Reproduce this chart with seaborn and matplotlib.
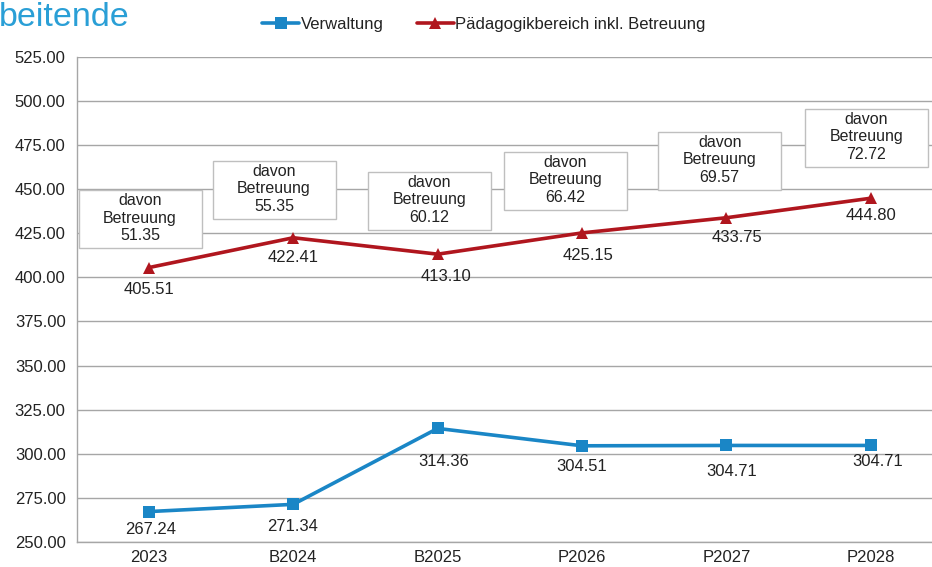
import matplotlib
matplotlib.use("Agg")
import matplotlib.pyplot as plt
import seaborn as sns
import pandas as pd
import numpy as np

# ---- data ----
categories = ["2023", "B2024", "B2025", "P2026", "P2027", "P2028"]
verwaltung = [267.24, 271.34, 314.36, 304.51, 304.71, 304.71]
paedagogik = [405.51, 422.41, 413.10, 425.15, 433.75, 444.80]
betreuung = [51.35, 55.35, 60.12, 66.42, 69.57, 72.72]
y_ticks = [250, 275, 300, 325, 350, 375, 400, 425, 450, 475, 500, 525]
title_text = "beitende"
name_v = "Verwaltung"
name_p = "Pädagogikbereich inkl. Betreuung"

# ---- layout (positions of callout boxes / label offsets, in px) ----
box_cx = [-0.061, 0.867, 1.943, 2.884, 3.953, 4.97]
box_cy = [432.9, 449.6, 443.4, 454.7, 466.0, 479.1]
p_lab_dx = [0, 0, 8, 6, 11, 0]
p_lab_dy = [22, 20, 22, 23, 20, 17]
v_lab_dx = [2, -1, 6, 0, 5, 7]
v_lab_dy = [18, 22, 33, 21, 26, 16]

W, H = 932, 567
sns.set_theme(style="white")
plt.rcParams["font.family"] = ["Liberation Sans", "DejaVu Sans"]

fig = plt.figure(figsize=(W / 100, H / 100), dpi=100)
ax_left, ax_right, ax_top, ax_bottom = 76.7, 943.0, 56.7, 542.0
ax = fig.add_axes([ax_left / W, (H - ax_bottom) / H,
                   (ax_right - ax_left) / W, (ax_bottom - ax_top) / H])

blue = "#1a86c6"
red = "#b0161e"
grid_c = "#a6a6a6"
txt_c = "#222222"
fs = 12

x = np.arange(len(categories))
df = pd.DataFrame({"x": np.concatenate([x, x]),
                   "y": verwaltung + paedagogik,
                   "series": [name_v] * len(x) + [name_p] * len(x)})

sns.lineplot(data=df[df.series == name_v], x="x", y="y", ax=ax, color=blue,
             lw=2.6, marker="s", markersize=9, markeredgewidth=0,
             label=name_v, legend=False)
sns.lineplot(data=df[df.series == name_p], x="x", y="y", ax=ax, color=red,
             lw=2.6, marker="^", markersize=9, markeredgewidth=0,
             label=name_p, legend=False)

ax.set_xlim(-0.5, len(categories) - 0.5)
ax.set_ylim(250, 525)
ax.set_yticks(y_ticks)
ax.set_yticklabels([f"{v:.2f}" for v in y_ticks], fontsize=fs, color=txt_c)
ax.set_xticks(x)
ax.set_xticklabels(categories, fontsize=fs, color=txt_c)
ax.set_xlabel("")
ax.set_ylabel("")
ax.set_xticks(np.arange(-0.5, len(categories) + 0.5, 1), minor=True)
ax.tick_params(axis="x", which="major", length=0, pad=6)
ax.tick_params(axis="x", which="minor", length=5, color=grid_c, width=1, direction="out")
ax.tick_params(axis="y", which="major", length=5, color=grid_c, width=1, direction="out", pad=3)
ax.grid(axis="y", color=grid_c, lw=1)
ax.set_axisbelow(True)
for s in ["top", "right"]:
    ax.spines[s].set_visible(False)
for s in ["left", "bottom"]:
    ax.spines[s].set_color(grid_c)
    ax.spines[s].set_linewidth(1)

# data labels
for i, v in enumerate(paedagogik):
    ax.annotate(f"{v:.2f}", (x[i], v), xytext=(p_lab_dx[i] * 0.72, -p_lab_dy[i] * 0.72),
                textcoords="offset points", ha="center", va="center",
                fontsize=fs, color=txt_c)
for i, v in enumerate(verwaltung):
    ax.annotate(f"{v:.2f}", (x[i], v), xytext=(v_lab_dx[i] * 0.72, -v_lab_dy[i] * 0.72),
                textcoords="offset points", ha="center", va="center",
                fontsize=fs, color=txt_c)

# callout boxes
px_per_x = (ax_right - ax_left) / len(categories)
px_per_y = (ax_bottom - ax_top) / (525 - 250)
bw, bh = 123 / px_per_x, 58 / px_per_y
for i, b in enumerate(betreuung):
    ax.add_patch(plt.Rectangle((box_cx[i] - bw / 2, box_cy[i] - bh / 2), bw, bh,
                               facecolor="white", edgecolor="#bfbfbf", lw=1, zorder=4,
                               clip_on=False))
    ax.text(box_cx[i], box_cy[i] + 0.5, f"davon\nBetreuung\n{b:.2f}", ha="center", va="center",
            fontsize=fs - 0.5, color=txt_c, linespacing=1.2, zorder=5)

# legend
handles, labels = ax.get_legend_handles_labels()
leg = fig.legend(handles, labels, loc="center", bbox_to_anchor=(484 / W, 1 - 24 / H),
                 ncol=2, frameon=False, fontsize=fs, handlelength=2.2,
                 handletextpad=0.1, columnspacing=2.0)
for t in leg.get_texts():
    t.set_color(txt_c)

# partial title
fig.text(-1 / W, 1 - 17 / H, title_text, fontsize=24.5, color="#2a9fd6",
         ha="left", va="center")

fig.savefig("out.png", dpi=100)
